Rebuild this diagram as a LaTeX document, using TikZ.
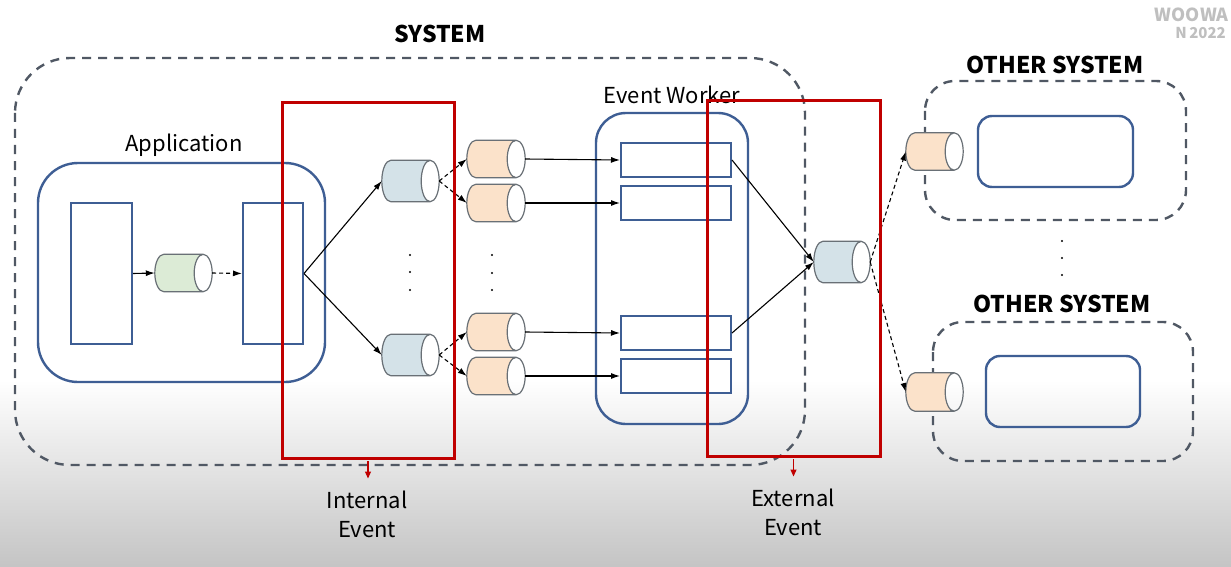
\documentclass[tikz,border=0pt]{standalone}
\usepackage{fontspec}
\setmainfont{Noto Sans CJK KR}
\usetikzlibrary{arrows.meta,calc}
\definecolor{bline}{RGB}{62,94,148}
\definecolor{dgray}{RGB}{80,88,100}
\definecolor{rline}{RGB}{192,0,0}
\definecolor{cedge}{RGB}{105,112,118}
\definecolor{cblue}{RGB}{212,226,232}
\definecolor{cgreen}{RGB}{220,235,214}
\definecolor{corange}{RGB}{251,226,202}
\tikzset{
  sysbox/.style={draw=dgray,line width=2.4pt,dash pattern=on 9pt off 7pt,rounded corners=#1},
  appbox/.style={draw=bline,line width=2.4pt,rounded corners=#1,inner sep=0pt},
  plainbox/.style={draw=bline,line width=2pt,fill=white,inner sep=0pt},
  redbox/.style={draw=rline,line width=3pt},
  cylbox/.style={rectangle,inner sep=0pt,minimum width=57pt,minimum height=37pt},
  arr/.style={-{Latex[length=9pt,width=6pt]},line width=1.1pt,black},
  darr/.style={arr,dash pattern=on 4pt off 3pt},
  rarr/.style={-{Triangle[length=7pt,width=6pt]},line width=1.2pt,draw=rline,fill=rline},
  lbl/.style={font=\fontsize{22}{29}\selectfont,text=black,align=center,inner sep=0pt},
  ttl/.style={font=\fontsize{23}{28}\selectfont\bfseries,text=black,inner sep=0pt},
  wmark/.style={text=black!25,anchor=east,inner sep=0pt},
  dotn/.style={circle,fill=black,inner sep=0pt,minimum size=2.4pt}
}
% draws a horizontal cylinder filling the box of node #1
\newcommand\qcyl[2]{%
  \filldraw[fill=#2,draw=cedge,line width=1.2pt]
    let \p1=(#1.north west), \p2=(#1.south east),
        \n1={(\y1-\y2)/2}, \n2={(\y1+\y2)/2} in
    (\x1+9pt,\y1) -- (\x2-9pt,\y1)
    arc[start angle=90,end angle=-90,x radius=9pt,y radius=\n1]
    -- (\x1+9pt,\y2)
    arc[start angle=270,end angle=90,x radius=9pt,y radius=\n1] -- cycle
    (\x2-9pt,\n2) ellipse[x radius=9pt,y radius=\n1];
}
\begin{document}
\begin{tikzpicture}[x=1pt,y=-1pt]
\useasboundingbox (0,0) rectangle (1231,567);
% background
\fill[white] (0,0) rectangle (1231,380);
\shade[top color=white,bottom color=black!23] (0,380) rectangle (1231,567);
% watermark
\node[wmark,font=\fontsize{18}{18}\selectfont\bfseries] (wm1) at (1229,15) {WOOWA};
\node[wmark,font=\fontsize{15}{15}\selectfont\bfseries] (wm2) at (1226,33) {N\,2022};
% system box
\draw[sysbox=55pt] (15,58) rectangle (805,465);
\node[ttl] (systitle) at (440,34) {SYSTEM};
% application
\node[appbox=40pt,minimum width=287pt,minimum height=219pt] (app) at (181.5,272.5) {};
\node[lbl] (applbl) at (184,145) {Application};
\node[plainbox,minimum width=61pt,minimum height=141pt] (a1) at (101.5,273.5) {};
\node[plainbox,minimum width=60pt,minimum height=141pt] (a2) at (273,273.5) {};
\node[cylbox] (g) at (183.5,273) {};
\qcyl{g}{cgreen}
\draw[arr] (a1.east) -- (g.west);
\draw[darr] (g.east) -- (a2.west);
% internal queues
\node[cylbox,minimum height=41pt] (q1) at (410.5,181) {};
\node[cylbox,minimum height=41pt] (q2) at (410.5,355) {};
\qcyl{q1}{cblue}
\qcyl{q2}{cblue}
\draw[arr] (a2.east) -- (q1.west);
\draw[arr] (a2.east) -- (q2.west);
\node[dotn] (d1) at (410,255) {};
\node[dotn] (d2) at (410,272) {};
\node[dotn] (d3) at (410,290) {};
% orange queues
\node[cylbox,minimum width=58pt] (o1) at (496,159) {};
\node[cylbox,minimum width=58pt] (o2) at (496,203) {};
\node[cylbox,minimum width=58pt] (o3) at (496,332) {};
\node[cylbox,minimum width=58pt] (o4) at (496,376) {};
\qcyl{o1}{corange}
\qcyl{o2}{corange}
\qcyl{o3}{corange}
\qcyl{o4}{corange}
\draw[darr] (q1.east) -- (o1.west);
\draw[darr] (q1.east) -- (o2.west);
\draw[darr] (q2.east) -- (o3.west);
\draw[darr] (q2.east) -- (o4.west);
\node[dotn] (e1) at (492,255) {};
\node[dotn] (e2) at (492,273) {};
\node[dotn] (e3) at (492,290) {};
% event worker
\node[appbox=30pt,minimum width=152pt,minimum height=311pt] (ew) at (672,268.5) {};
\node[lbl] (ewlbl) at (672,95) {Event Worker};
\node[plainbox,minimum width=110pt,minimum height=34pt] (w1) at (676,160) {};
\node[plainbox,minimum width=110pt,minimum height=34pt] (w2) at (676,203) {};
\node[plainbox,minimum width=110pt,minimum height=34pt] (w3) at (676,333) {};
\node[plainbox,minimum width=110pt,minimum height=34pt] (w4) at (676,376) {};
\draw[arr] (o1.east) -- (w1.west);
\draw[arr] (o2.east) -- (w2.west);
\draw[arr] (o3.east) -- (w3.west);
\draw[arr] (o4.east) -- (w4.west);
% external queue
\node[cylbox,minimum width=56pt,minimum height=41pt] (x) at (842,262) {};
\qcyl{x}{cblue}
\draw[arr] (w1.east) -- (x.west);
\draw[arr] (w3.east) -- (x.west);
% other systems
\draw[sysbox=30pt] (925,81) rectangle (1186,220);
\draw[sysbox=30pt] (933,322) rectangle (1193,461);
\node[ttl] (os1) at (1055,65) {OTHER SYSTEM};
\node[ttl] (os2) at (1062,304) {OTHER SYSTEM};
\node[appbox=14pt,minimum width=155pt,minimum height=71pt] (i1) at (1055.5,151.5) {};
\node[appbox=14pt,minimum width=154pt,minimum height=71pt] (i2) at (1063,391.5) {};
\node[cylbox] (p1) at (934.5,151.5) {};
\node[cylbox,minimum height=38pt] (p2) at (934.5,392) {};
\qcyl{p1}{corange}
\qcyl{p2}{corange}
\draw[darr] (x.east) -- (p1.west);
\draw[darr] (x.east) -- (p2.west);
\node[dotn] (f1) at (1062,241) {};
\node[dotn] (f2) at (1062,258) {};
\node[dotn] (f3) at (1062,275) {};
% red boxes
\node[redbox,inner sep=0pt,minimum width=172pt,minimum height=355pt] (r1) at (368,280.5) {};
\node[redbox,inner sep=0pt,minimum width=173pt,minimum height=355pt] (r2) at (793.5,278.5) {};
\coordinate (r1t) at ([yshift=-19pt]r1.south);
\coordinate (r2t) at ([yshift=-19pt]r2.south);
\draw[rarr] ([yshift=-1.5pt]r1.south) -- (r1t);
\draw[rarr] ([yshift=-1.5pt]r2.south) -- (r2t);
\node[lbl] (il) at (367,514) {Internal\\Event};
\node[lbl] (el) at (793,512) {External\\Event};
\end{tikzpicture}
\end{document}
